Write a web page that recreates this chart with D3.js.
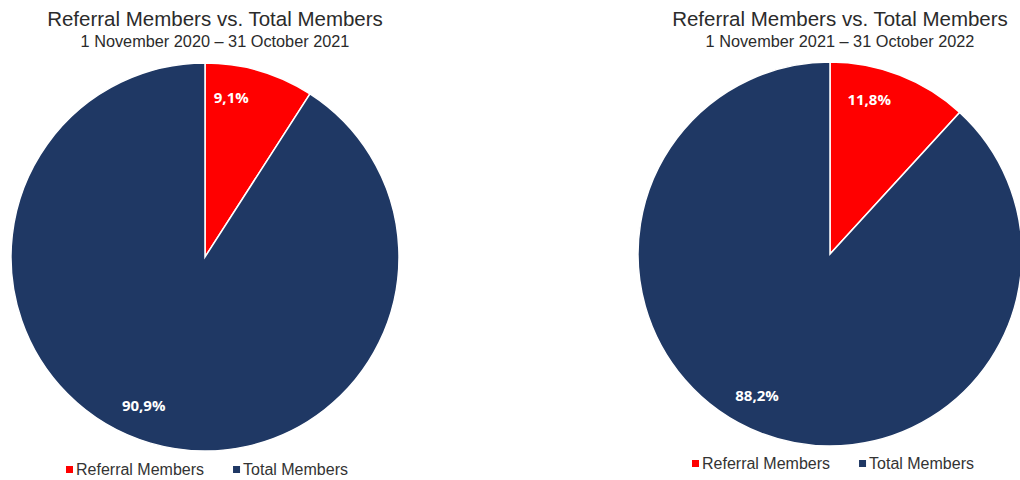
<!DOCTYPE html>
<html>
<head>
<meta charset="utf-8">
<script src="https://cdn.jsdelivr.net/npm/d3@7"></script>
<style>
  body { margin: 0; background: #fff; }
  svg { display: block; }
  .title { font-family: "Liberation Sans", Arial, sans-serif; fill: #2b2b2b; }
  .legend { font-family: "Liberation Sans", Arial, sans-serif; fill: #333; font-size: 16px; }
  .pct { font-family: "Open Sans", "Noto Sans", sans-serif; font-weight: bold; fill: #fff; font-size: 15px; }
</style>
</head>
<body>
<div id="chart"></div>
<script>
// Data
const categories = ["Referral Members", "Total Members"];
const colors = ["#ff0000", "#1f3864"];
const periods = ["1 November 2020 \u2013 31 October 2021", "1 November 2021 \u2013 31 October 2022"];
const shares2021 = [9.1, 90.9];
const shares2022 = [11.8, 88.2];
const allShares = [shares2021, shares2022];

const w = 1020, h = 480;

const svg = d3.select("#chart")
  .append("svg")
  .attr("width", w)
  .attr("height", h);

// layout for each of the two pies
const panels = [
  { cx: 205, cy: 257, r: 194, titleX: 215, legendX: 66, legendY: 470 },
  { cx: 830, cy: 254, r: 192, titleX: 840, legendX: 692, legendY: 464 }
];
// excel "best fit" nudges labels a little off the slice middle (degrees)
const labelShift = [-7, 6];

const pie = d3.pie().sort(null).value(d => d);
const fmt = v => v.toFixed(1).replace(".", ",") + "%";

panels.forEach((p, i) => {
  const g = svg.append("g");

  // titles
  g.append("text")
    .attr("class", "title")
    .attr("x", p.titleX)
    .attr("y", 26)
    .attr("text-anchor", "middle")
    .attr("font-size", 20.5)
    .text("Referral Members vs. Total Members");

  g.append("text")
    .attr("class", "title")
    .attr("x", p.titleX)
    .attr("y", 47)
    .attr("text-anchor", "middle")
    .attr("font-size", 16.3)
    .text(periods[i]);

  // slices
  const arc = d3.arc().innerRadius(0).outerRadius(p.r);
  const labelR = p.r * 0.83;
  const arcs = pie(allShares[i]);

  const pg = g.append("g")
    .attr("transform", "translate(" + p.cx + "," + p.cy + ")");

  pg.selectAll("path")
    .data(arcs)
    .join("path")
      .attr("d", arc)
      .attr("fill", (d, j) => colors[j])
      .attr("stroke", "#fff")
      .attr("stroke-width", 1.5);

  pg.selectAll("text")
    .data(arcs)
    .join("text")
      .attr("class", "pct")
      .attr("transform", (d, j) => {
        const a = (d.startAngle + d.endAngle) / 2 + labelShift[j] * Math.PI / 180;
        return "translate(" + (labelR * Math.sin(a)) + "," + (-labelR * Math.cos(a)) + ")";
      })
      .attr("text-anchor", "middle")
      .attr("dy", "0.35em")
      .text(d => fmt(d.data));

  // legend
  const lg = g.append("g")
    .attr("transform", "translate(" + p.legendX + "," + p.legendY + ")");
  let offset = 0;
  categories.forEach((c, j) => {
    lg.append("rect")
      .attr("x", offset)
      .attr("y", -4)
      .attr("width", 7)
      .attr("height", 7)
      .attr("fill", colors[j]);
    const t = lg.append("text")
      .attr("class", "legend")
      .attr("x", offset + 10)
      .attr("y", 5)
      .text(c);
    offset += 10 + t.node().getComputedTextLength() + 29;
  });
});
</script>
</body>
</html>
